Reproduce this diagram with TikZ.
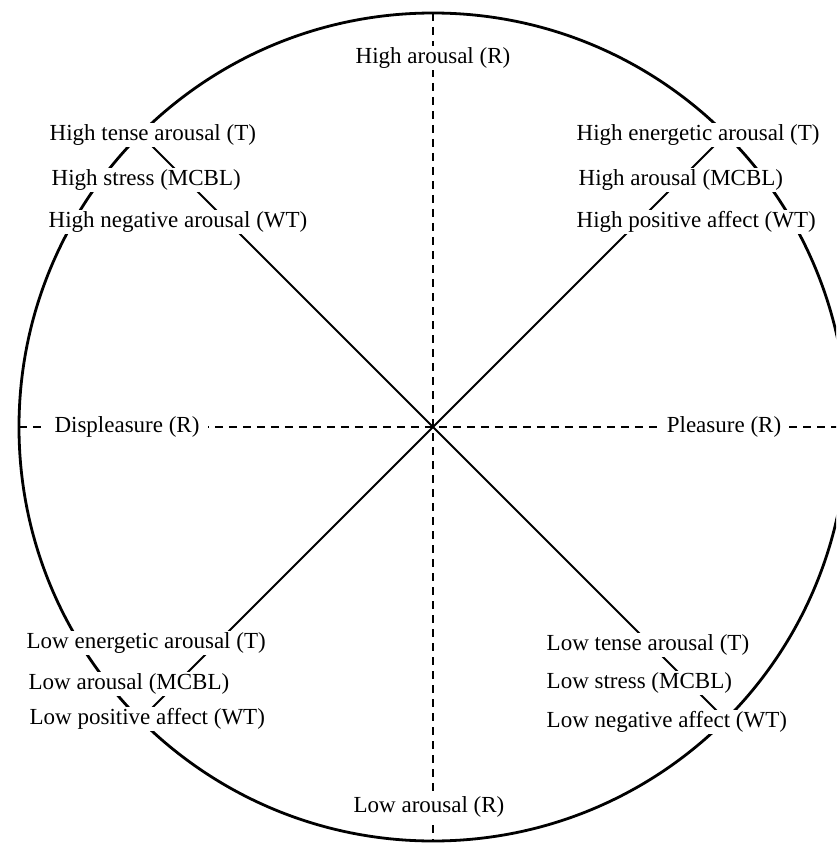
\documentclass[tikz,border=0pt]{standalone}
\usepackage{fontspec}
\setmainfont{Liberation Serif}
\usetikzlibrary{positioning}
\tikzset{
	lbl/.style={fill=white, inner sep=1.5pt, font=\fontsize{23}{27}\selectfont},
	axis/.style={line width=1.7pt, dash pattern=on 8pt off 6pt},
	diag/.style={line width=2pt}
}
\begin{document}
\begin{tikzpicture}[x=1pt, y=1pt]
	\clip (-433,-417) rectangle (403,427);
	\coordinate (o) at (0,0);
	\foreach \a/\n in {0/e, 45/ne, 90/n, 135/nw, 180/w, 225/sw, 270/s, 315/se} {
		\coordinate (\n) at (\a:414);
	}
	\draw[line width=2.8pt] (o) circle (414);
	\draw[axis] (w) -- (e);
	\draw[axis] (n) -- (s);
	\draw[diag] (nw) -- (se);
	\draw[diag] (sw) -- (ne);

	\node[lbl] (hiar) at (0, 369) {High arousal (R)};
	\node[lbl] (loar) at (-4, -380) {Low arousal (R)};
	\node[lbl, inner xsep=9pt] (displ) at (-306, 0) {Displeasure (R)};
	\node[lbl, inner xsep=5pt] (pleas) at (291, 0) {Pleasure (R)};

	\node[lbl, anchor=west] (hit) at (-385, 292) {High tense arousal (T)};
	\node[lbl, anchor=west] (hism) at (-383, 247) {High stress (MCBL)};
	\node[lbl, anchor=west] (hiw) at (-386, 205) {High negative arousal (WT)};

	\node[lbl, anchor=west] (het) at (142, 292) {High energetic arousal (T)};
	\node[lbl, anchor=west] (hem) at (144, 247) {High arousal (MCBL)};
	\node[lbl, anchor=west] (hew) at (142, 205) {High positive affect (WT)};

	\node[lbl, anchor=west] (let) at (-408, -216) {Low energetic arousal (T)};
	\node[lbl, anchor=west] (lem) at (-406, -257) {Low arousal (MCBL)};
	\node[lbl, anchor=west] (lew) at (-405, -292) {Low positive affect (WT)};

	\node[lbl, anchor=west] (ltt) at (112, -218) {Low tense arousal (T)};
	\node[lbl, anchor=west] (ltm) at (112, -256) {Low stress (MCBL)};
	\node[lbl, anchor=west] (ltw) at (112, -295) {Low negative affect (WT)};
\end{tikzpicture}
\end{document}
